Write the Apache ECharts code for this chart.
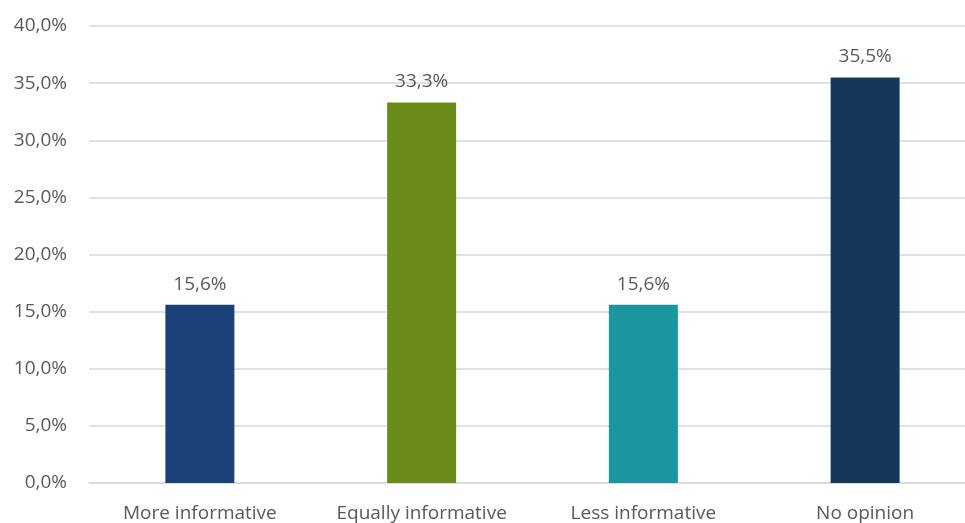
<!DOCTYPE html>
<html>
<head>
<meta charset="utf-8">
<script src="https://cdn.jsdelivr.net/npm/echarts@6/dist/echarts.min.js"></script>
<style>
	html, body { margin: 0; padding: 0; background: #fff; overflow: hidden; }
	/* 오른쪽이 잘린 원본에 맞춰 캔버스를 창보다 조금 넓게 */
	#chart { width: 976px; height: 523px; }
</style>
</head>
<body>
<div id="chart"></div>
<script>
// 데이터
var categories = ['More informative', 'Equally informative', 'Less informative', 'No opinion'];
var values = [15.6, 33.3, 15.6, 35.5];
var barColors = ['#1a4178', '#6a8b1a', '#1b96a0', '#163858'];

// 숫자 -> "15,6%"
function pct(v) {
	return v.toFixed(1).replace('.', ',') + '%';
}

var chart = echarts.init(document.getElementById('chart'));
var option = {
	animation: false,
	textStyle: { fontFamily: 'Open Sans' },
	grid: {
		left: 89,
		right: 0,
		top: 26,
		bottom: 39
	},
	xAxis: {
		type: 'category',
		data: categories,
		axisLine: { lineStyle: { color: '#d9d9d9', width: 1.5 } },
		axisTick: { show: false },
		axisLabel: {
			color: '#595959',
			fontSize: 19,
			margin: 21
		}
	},
	yAxis: {
		type: 'value',
		min: 0,
		max: 40,
		interval: 5,
		axisLine: { show: false },
		axisTick: { show: false },
		splitLine: { lineStyle: { color: '#d9d9d9', width: 1.5 } },
		axisLabel: {
			color: '#595959',
			fontSize: 19,
			margin: 22,
			formatter: function(v) { return pct(v); }
		}
	},
	series: [{
		type: 'bar',
		barWidth: 69,
		data: values.map(function(v, i) {
			return { value: v, itemStyle: { color: barColors[i] } };
		}),
		label: {
			show: true,
			position: 'top',
			distance: 11,
			color: '#595959',
			fontSize: 19,
			formatter: function(p) { return pct(p.value); }
		}
	}]
};
chart.setOption(option);
</script>
</body>
</html>
